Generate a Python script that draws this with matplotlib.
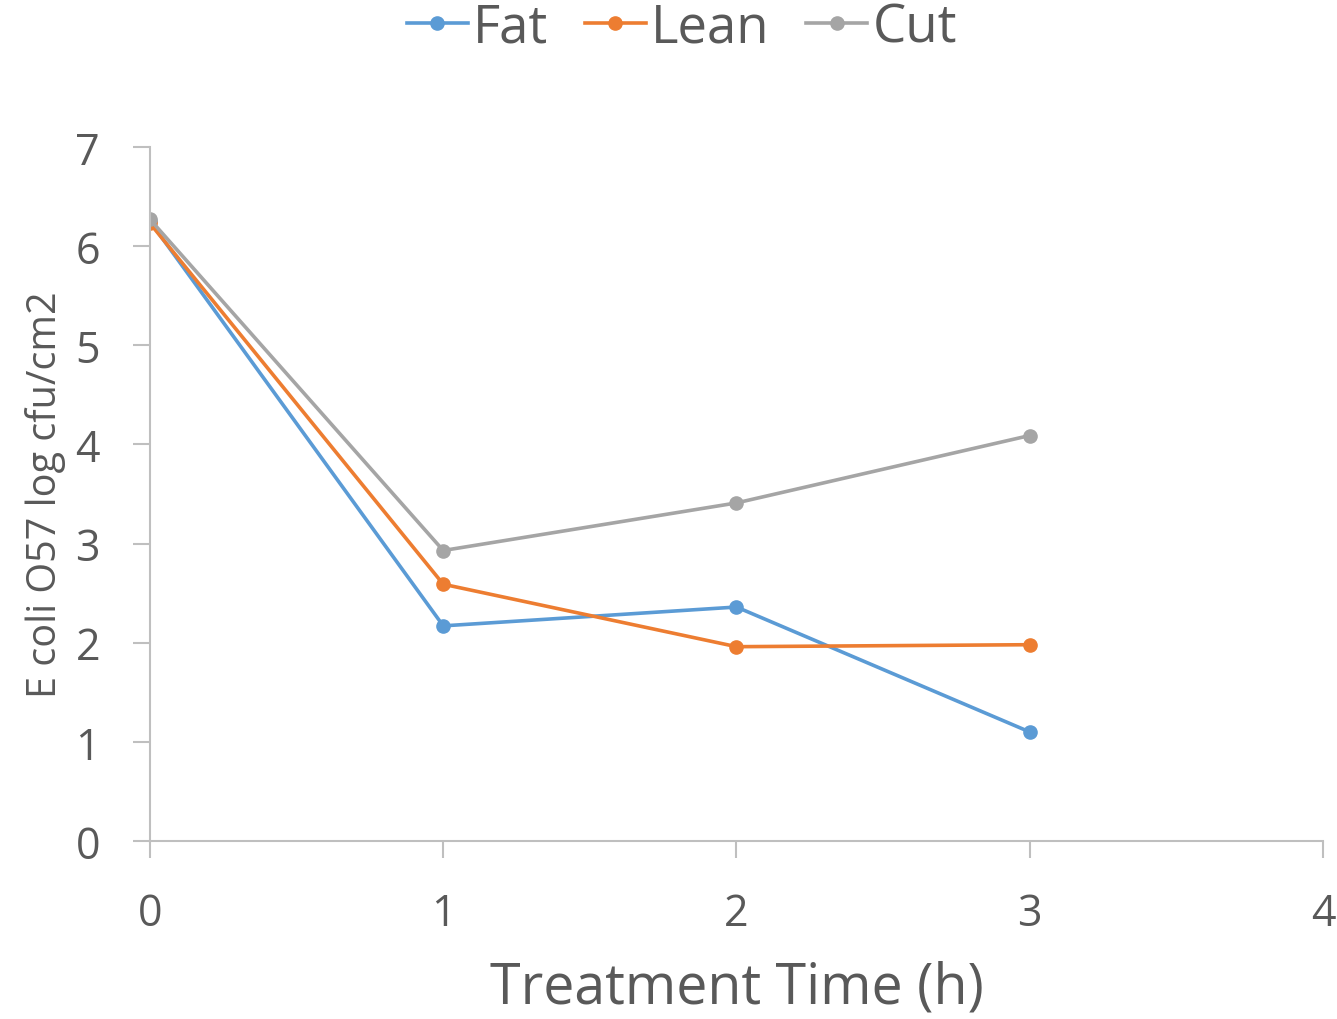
import matplotlib
matplotlib.use("Agg")
import matplotlib.pyplot as plt

hours = [0, 1, 2, 3]
fat = [6.25, 2.17, 2.36, 1.10]
lean = [6.23, 2.59, 1.96, 1.98]
cut = [6.27, 2.93, 3.41, 4.09]

series_names = ["Fat", "Lean", "Cut"]
series_colors = ["#5B9BD5", "#ED7D31", "#A5A5A5"]

plt.rcParams['font.family'] = ['Open Sans', 'DejaVu Sans']
txt = "#595959"
axis_gray = "#BFBFBF"

fig = plt.figure(figsize=(13.37, 10.2), dpi=100)
ax = fig.add_axes([0.1122, 0.1745, 0.8773, 0.6804])

for vals, name, col in zip([fat, lean, cut], series_names, series_colors):
    ax.plot(hours, vals, color=col, lw=2.6, marker='o', ms=9.5, label=name)

ax.set_xlim(0, 4)
ax.set_ylim(0, 7)
ax.set_xticks(range(5))
ax.set_yticks(range(8))

for s in ['top', 'right']:
    ax.spines[s].set_visible(False)
for s in ['left', 'bottom']:
    ax.spines[s].set_color(axis_gray)
    ax.spines[s].set_linewidth(1.5)

ax.tick_params(axis='both', colors=axis_gray, width=1.5, length=12,
               labelcolor=txt, labelsize=31)
ax.tick_params(axis='x', pad=24)
ax.tick_params(axis='y', pad=24)

ax.set_xlabel("Treatment Time (h)", fontsize=40, color=txt, labelpad=17)
ax.set_ylabel("E coli O57 log cfu/cm2", fontsize=28.5, color=txt, labelpad=7)

fig.legend(loc='upper center', bbox_to_anchor=(0.51, 1.045), ncol=3, frameon=False,
           fontsize=38, labelcolor=txt, handlelength=1.15, handletextpad=0.1,
           columnspacing=0.7)

fig.savefig("out.png", dpi=100)
